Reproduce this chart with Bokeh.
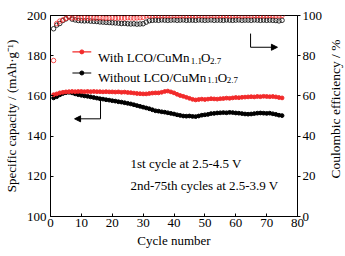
import math
from bokeh.plotting import figure
from bokeh.layouts import row
from bokeh.models import Range1d, LinearAxis, FixedTicker, Label, Arrow, NormalHead
from bokeh.core.properties import value
from bokeh.embed import file_html
from bokeh.resources import INLINE

FONT = "Liberation Serif"
RED = "#f22a2a"

cycles = list(range(1, 76))

cap_with = [160.6, 161.0, 161.5, 161.8, 162.0, 162.1, 162.2, 162.1, 162.2, 162.2,
            162.1, 162.2, 162.1, 162.2, 162.1, 162.1, 162.0, 162.1, 162.0, 162.0,
            161.9, 162.0, 161.8, 161.9, 161.7, 161.6, 161.4, 161.2, 161.1, 161.0,
            161.0, 161.2, 161.4, 161.5, 161.5, 161.8, 162.2, 162.4, 162.0, 161.5,
            160.8, 160.2, 159.8, 159.3, 158.8, 158.3, 158.0, 158.2, 158.4, 158.2,
            158.4, 158.6, 158.5, 158.4, 158.6, 158.7, 158.9, 158.8, 159.0, 159.2,
            159.1, 159.3, 159.4, 159.5, 159.6, 159.5, 159.7, 159.6, 159.8, 159.7,
            159.6, 159.7, 159.5, 159.2, 159.0]

cap_without = [159.0, 159.6, 160.5, 161.2, 161.6, 161.8, 161.5, 161.0, 160.6, 160.3,
               160.0, 159.8, 159.5, 159.2, 158.9, 158.6, 158.4, 158.1, 157.9, 157.6,
               157.4, 157.1, 156.9, 156.6, 156.3, 156.0, 155.6, 155.2, 154.8, 154.4,
               154.0, 153.6, 153.1, 152.6, 152.4, 152.1, 151.9, 151.6, 151.3, 151.0,
               150.6, 150.3, 150.0, 149.9, 150.0, 149.8, 149.7, 150.0, 150.4, 150.6,
               150.8, 151.2, 151.3, 151.5, 151.6, 151.7, 151.6, 151.8, 151.7, 151.5,
               151.4, 151.2, 151.0, 150.9, 151.0, 151.2, 151.4, 151.5, 151.4, 151.3,
               151.4, 151.1, 150.8, 150.4, 150.2]

ce_with = [77.6, 96.0, 97.2, 97.8, 98.6, 99.2, 98.8, 98.9, 98.7, 98.8,
           98.9, 98.7, 98.8, 98.8, 98.7, 98.9, 98.8, 98.7, 98.8, 98.9,
           98.7, 98.8, 98.8, 98.7, 98.9, 98.8, 98.7, 98.8, 98.9, 99.1,
           99.8, 99.9, 99.8, 100.0, 99.9, 99.8, 99.9, 100.0, 99.8, 99.9,
           100.0, 99.9, 99.8, 99.9, 100.0, 99.9, 99.8, 100.0, 99.9, 99.9,
           99.8, 100.0, 99.9, 99.8, 99.9, 100.0, 99.9, 99.8, 99.9, 100.0,
           99.9, 99.8, 99.9, 100.0, 99.9, 99.8, 100.0, 99.9, 99.8, 99.9,
           100.0, 99.9, 99.8, 99.9, 100.0]

ce_without = [93.4, 95.2, 96.0, 97.5, 98.3, 99.4, 98.2, 97.8, 97.5, 97.4,
              97.3, 97.4, 97.2, 97.1, 97.0, 96.8, 96.7, 96.6, 96.5, 96.4,
              96.3, 96.2, 96.0, 96.1, 95.9, 95.8, 95.9, 95.7, 95.8, 95.9,
              96.7, 97.4, 97.6, 97.7, 97.6, 97.8, 97.7, 97.6, 97.7, 97.8,
              97.6, 97.7, 97.8, 97.6, 97.7, 97.7, 97.6, 97.8, 97.7, 97.6,
              97.7, 97.8, 97.6, 97.7, 97.7, 97.6, 97.8, 97.7, 97.6, 97.7,
              97.8, 97.6, 97.7, 97.7, 97.6, 97.8, 97.7, 97.6, 97.7, 97.6,
              97.7, 97.6, 97.5, 97.3, 97.6]

x_ticks = [0, 10, 20, 30, 40, 50, 60, 70, 80]
cap_ticks = [100, 120, 140, 160, 180, 200]
ce_ticks = [0, 20, 40, 60, 80, 100]

p = figure(width=325, height=256, output_backend="svg", toolbar_location=None,
           x_range=Range1d(0, 80), y_range=Range1d(100, 200),
           min_border_left=49, min_border_right=28, min_border_top=15, min_border_bottom=40)
p.extra_y_ranges = {"ce": Range1d(0, 100)}
p.grid.visible = False
p.outline_line_color = "black"
p.outline_line_width = 1
p.background_fill_color = "white"
p.border_fill_color = "white"

def style_axis(ax, tick_in, tick_out):
    ax.axis_line_color = "black"
    ax.major_tick_line_color = "black"
    ax.minor_tick_line_color = None
    ax.major_tick_in = tick_in
    ax.major_tick_out = tick_out
    ax.major_label_text_font = FONT
    ax.major_label_text_font_size = "13px"
    ax.major_label_text_color = "black"
    ax.axis_label_text_font = FONT
    ax.axis_label_text_font_size = "13px"
    ax.axis_label_text_font_style = "normal"
    ax.axis_label_text_color = "black"

xa = p.xaxis[0]
xa.ticker = FixedTicker(ticks=x_ticks)
xa.axis_label = "Cycle number"
style_axis(xa, 3, 0)
xa.major_label_standoff = 2
xa.axis_label_standoff = 3

ya = p.yaxis[0]
ya.ticker = FixedTicker(ticks=cap_ticks)
ya.axis_label = "Specific capacity / (mAh·g⁻¹)"
style_axis(ya, 3, 0)
ya.major_label_standoff = 4
ya.axis_label_standoff = 5

ra = LinearAxis(y_range_name="ce", ticker=FixedTicker(ticks=ce_ticks))
style_axis(ra, 0, 3)
ra.major_label_standoff = 2
p.add_layout(ra, "right")

# Coulombic efficiency (open circles)
p.scatter(cycles, ce_without, y_range_name="ce", size=4.5, marker="circle",
          line_color="black", fill_color=None, line_width=0.8)
p.scatter(cycles, ce_with, y_range_name="ce", size=4.5, marker="circle",
          line_color=RED, fill_color=None, line_width=0.8)

# Capacity (filled circles with lines)
p.line(cycles, cap_without, line_color="black", line_width=1.5)
p.scatter(cycles, cap_without, size=3.8, marker="circle", line_color="black", fill_color="black")
p.line(cycles, cap_with, line_color=RED, line_width=1.5)
p.scatter(cycles, cap_with, size=3.8, marker="circle", line_color=RED, fill_color=RED)

# Legend (manual, to allow subscripts)
leg_x0, leg_x1, leg_xm = 7.1, 13.2, 10.15
leg_y = [181.9, 171.4]
leg_col = [RED, "black"]
for yy, cc in zip(leg_y, leg_col):
    p.line([leg_x0, leg_x1], [yy, yy], line_color=cc, line_width=1.2)
    p.scatter([leg_xm], [yy], size=4, marker="circle", line_color=cc, fill_color=cc)

def piece(x, y, txt, off, size):
    p.add_layout(Label(x=x, y=y, x_offset=off, text=txt, text_font=FONT,
                       text_font_size=size, text_color="black",
                       text_baseline="alphabetic", text_align="left"))

tx = 15.4
base_y = [179.0, 169.3]
sub_dy = 1.6
heads = ["With LCO/CuMn", "Without LCO/CuMn"]
offs = [(92.6, 103.0, 112.0), (109.2, 119.6, 128.6)]
for by, hd, (o1, o2, o3) in zip(base_y, heads, offs):
    piece(tx, by, hd, 0, "13px")
    piece(tx, by - sub_dy, "1.1", o1, "9px")
    piece(tx, by, "O", o2, "13px")
    piece(tx, by - sub_dy, "2.7", o3, "9px")

# Annotation texts
for yy, txt in zip([126.5, 115.3], ["1st cycle at 2.5-4.5 V", "2nd-75th cycles at 2.5-3.9 V"]):
    p.add_layout(Label(x=25.9, y=yy, text=txt, text_font=FONT, text_font_size="13px",
                       text_color="black", text_baseline="middle", text_align="left"))

# Arrows
p.line([64.8, 64.8], [191.0, 184.2], line_color="black", line_width=1)
p.add_layout(Arrow(end=NormalHead(size=6, fill_color="black", line_color="black"),
                   x_start=64.8, y_start=184.2, x_end=73.5, y_end=184.2,
                   line_color="black", line_width=1))
p.line([16.2, 16.2], [158.4, 148.6], line_color="black", line_width=1)
p.add_layout(Arrow(end=NormalHead(size=6, fill_color="black", line_color="black"),
                   x_start=16.2, y_start=148.6, x_end=7.8, y_end=148.6,
                   line_color="black", line_width=1))

# Right-hand axis title in a narrow strip, reading bottom-to-top
p2 = figure(width=20, height=256, output_backend="svg", toolbar_location=None,
            x_range=Range1d(0, 1), y_range=Range1d(0, 1),
            min_border_left=0, min_border_right=0, min_border_top=0, min_border_bottom=0)
p2.axis.visible = False
p2.grid.visible = False
p2.outline_line_color = None
p2.background_fill_color = "white"
p2.border_fill_color = "white"
p2.text(x=[0.5], y=[0.535], text=["Coulombic efficiency / %"], angle=math.pi / 2,
        text_align="center", text_baseline="middle", text_font=value(FONT),
        text_font_size="13.5px", text_color="black")

layout = row(p, p2, spacing=0)
open("out.html", "w").write(file_html(layout, INLINE))
